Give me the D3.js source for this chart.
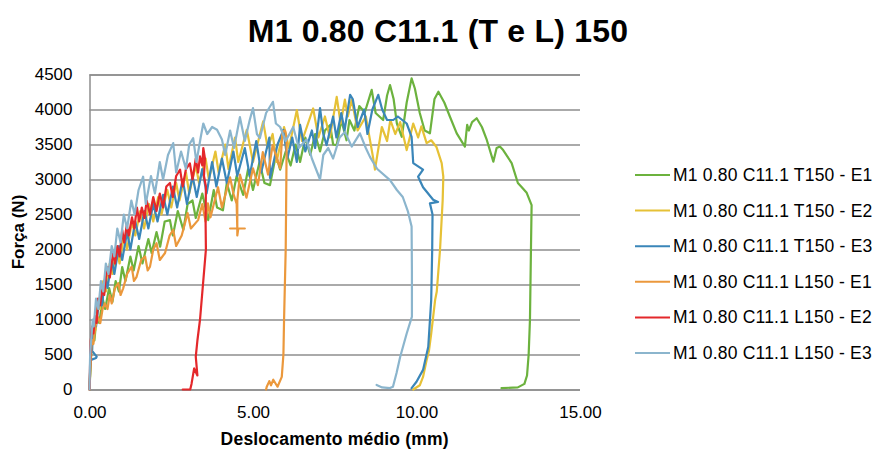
<!DOCTYPE html>
<html>
<head>
<meta charset="utf-8">
<script src="https://cdn.jsdelivr.net/npm/d3@7"></script>
<style>
  html, body { margin: 0; padding: 0; background: #fff; }
  svg { display: block; font-family: "Liberation Sans", Arial, Helvetica, sans-serif; }
</style>
</head>
<body>
<svg id="chart" width="875" height="449"></svg>
<script>
// ---------- DATA ----------
const chartTitle = "M1 0.80 C11.1 (T e L) 150";
const xLabel = "Deslocamento médio (mm)";
const yLabel = "Força (N)";
const xTicks = [0, 5, 10, 15];
const yTicks = [0, 500, 1000, 1500, 2000, 2500, 3000, 3500, 4000, 4500];
const seriesNames = [
  "M1 0.80 C11.1 T150 - E1",
  "M1 0.80 C11.1 T150 - E2",
  "M1 0.80 C11.1 T150 - E3",
  "M1 0.80 C11.1 L150 - E1",
  "M1 0.80 C11.1 L150 - E2",
  "M1 0.80 C11.1 L150 - E3"
];

// [displacement mm, force N]
const t150e1 = [[0,0],[0.03,300],[0.06,550],[0.1,800],[0.15,700],[0.22,1050],[0.3,950],[0.4,1300],[0.48,1150],[0.6,1450],[0.7,1250],[0.8,1550],[0.9,1400],[1.0,1750],[1.1,1550],[1.25,1900],[1.35,1700],[1.5,2050],[1.62,1800],[1.8,2150],[1.9,1950],[2.05,2250],[2.16,2040],[2.3,2400],[2.46,2420],[2.55,2200],[2.7,2550],[2.87,2280],[3.0,2650],[3.15,2700],[3.25,2450],[3.45,2800],[3.63,2420],[3.8,2850],[3.9,2600],[4.08,2560],[4.2,2950],[4.35,2700],[4.5,3050],[4.7,2780],[4.85,3150],[5.0,2850],[5.2,3250],[5.35,2950],[5.52,2920],[5.7,3350],[5.83,3140],[6.0,3400],[6.15,3200],[6.3,3500],[6.44,3250],[6.6,3600],[6.75,3350],[6.9,3650],[7.05,3400],[7.2,3700],[7.36,3780],[7.45,3500],[7.56,3490],[7.7,3850],[7.86,3560],[7.95,3850],[8.1,3700],[8.25,4050],[8.42,3960],[8.63,4280],[8.75,3950],[8.98,3850],[9.1,4200],[9.19,4350],[9.3,4150],[9.4,3800],[9.55,3610],[9.7,4100],[9.85,4445],[9.95,4300],[10.1,3950],[10.25,3700],[10.41,3660],[10.55,4150],[10.67,4255],[10.85,4100],[11.02,3900],[11.23,3660],[11.48,3470],[11.52,3650],[11.55,3780],[11.6,3700],[11.7,3820],[11.84,3875],[12.0,3750],[12.15,3565],[12.35,3255],[12.45,3450],[12.55,3470],[12.65,3420],[12.91,3235],[13.1,2950],[13.2,2900],[13.37,2810],[13.52,2635],[13.5,2000],[13.47,1000],[13.43,500],[13.38,200],[13.3,80],[13.1,30],[12.6,20]];

const t150e2 = [[0,0],[0.03,400],[0.07,700],[0.12,950],[0.18,850],[0.25,1250],[0.32,1150],[0.42,1550],[0.5,1400],[0.62,1800],[0.7,1650],[0.82,2000],[0.92,1800],[1.05,2200],[1.15,2000],[1.3,2400],[1.4,2200],[1.55,2550],[1.67,2300],[1.82,2650],[1.95,2400],[2.1,2750],[2.2,2500],[2.38,2850],[2.5,2600],[2.65,2950],[2.75,2700],[2.95,3100],[3.05,2800],[3.25,3200],[3.35,2950],[3.55,3300],[3.65,3000],[3.85,3400],[3.95,3100],[4.15,3500],[4.25,3150],[4.45,3600],[4.55,3250],[4.81,3710],[5.0,3250],[5.31,3830],[5.45,3450],[5.6,3650],[5.72,3250],[5.95,3750],[6.1,3450],[6.34,3990],[6.5,3550],[6.84,4015],[7.0,3600],[7.2,3900],[7.35,3600],[7.56,4180],[7.68,3800],[7.81,4140],[7.9,3900],[8.02,4140],[8.2,3700],[8.45,3900],[8.67,3320],[8.73,3140],[8.94,3750],[9.1,3550],[9.2,3850],[9.35,3650],[9.5,3820],[9.7,3420],[9.9,3800],[10.05,3600],[10.15,3760],[10.31,3520],[10.45,3560],[10.61,3465],[10.77,3235],[10.82,3040],[10.8,2700],[10.72,2000],[10.62,1400],[10.57,1280],[10.45,800],[10.38,550],[10.31,420],[10.2,180],[10.1,60],[9.9,0]];

const t150e3 = [[0,0],[0.03,420],[0.2,450],[0.22,470],[0.08,550],[0.1,800],[0.15,1000],[0.2,900],[0.3,1300],[0.38,1200],[0.48,1600],[0.55,1450],[0.68,1850],[0.76,1650],[0.9,2050],[1.0,1850],[1.15,2250],[1.25,2000],[1.4,2400],[1.52,2150],[1.68,2550],[1.8,2300],[1.95,2650],[2.08,2400],[2.25,2780],[2.38,2500],[2.55,2900],[2.68,2600],[2.85,3000],[2.98,2650],[3.15,3050],[3.28,2750],[3.45,3150],[3.58,2800],[3.75,3250],[3.88,2900],[4.05,3300],[4.2,2950],[4.4,3400],[4.52,3050],[4.75,3450],[4.9,3050],[5.1,3550],[5.25,3100],[5.5,3600],[5.52,3020],[5.75,3500],[5.93,3710],[6.05,3300],[6.2,3600],[6.34,3250],[6.44,3780],[6.6,3400],[6.8,3700],[6.9,3450],[7.05,4020],[7.15,3650],[7.25,3490],[7.45,3900],[7.55,3600],[7.7,3950],[7.8,3700],[7.97,4210],[8.05,4150],[8.2,3750],[8.4,4000],[8.5,3650],[8.65,4000],[8.83,4210],[8.95,4000],[9.1,3850],[9.29,3850],[9.43,3900],[9.7,3800],[9.85,3610],[9.9,3235],[10.2,3140],[10.05,3040],[10.2,2890],[10.51,2710],[10.66,2680],[10.41,2660],[10.49,2500],[10.48,2000],[10.45,1280],[10.36,610],[10.2,280],[10.0,110],[9.85,20]];

const l150e1 = [[0,0],[0.02,250],[0.04,460],[0.07,710],[0.12,650],[0.18,900],[0.26,1030],[0.33,950],[0.4,1150],[0.47,1230],[0.55,1150],[0.62,1350],[0.68,1230],[0.78,1450],[0.88,1520],[0.95,1350],[1.03,1445],[1.15,1650],[1.29,1755],[1.36,1550],[1.44,1610],[1.58,1850],[1.7,1900],[1.78,1700],[1.85,1755],[1.95,2000],[2.05,2090],[2.15,1850],[2.31,1950],[2.45,2200],[2.56,2280],[2.65,2050],[2.82,2200],[3.0,2520],[3.1,2300],[3.32,2420],[3.45,2650],[3.55,2400],[3.62,2660],[3.7,2460],[3.93,2890],[4.05,2600],[4.3,3030],[4.4,2800],[4.5,2650],[4.52,2300],[4.3,2300],[4.75,2300],[4.55,2300],[4.52,2200],[4.52,2700],[4.6,3070],[4.8,2740],[5.0,3160],[5.15,2920],[5.3,3390],[5.46,3070],[5.6,3490],[5.83,3160],[5.9,3680],[5.98,3700],[6.03,3600],[6.02,3000],[6.0,2000],[5.95,1000],[5.93,500],[5.88,180],[5.75,40],[5.62,140],[5.55,60],[5.5,120],[5.42,40],[5.4,0]];

const l150e2 = [[0,0],[0.02,400],[0.04,700],[0.08,900],[0.12,800],[0.17,1050],[0.22,950],[0.26,1300],[0.32,1200],[0.4,1450],[0.45,1350],[0.5,1600],[0.57,1750],[0.62,1600],[0.72,1950],[0.78,1800],[0.85,2050],[0.92,1900],[1.0,2280],[1.06,2100],[1.14,2350],[1.2,2200],[1.3,2460],[1.37,2300],[1.45,2600],[1.52,2400],[1.6,2600],[1.68,2450],[1.75,2700],[1.85,2500],[1.95,2750],[2.05,2550],[2.15,2800],[2.25,2600],[2.35,2900],[2.46,2950],[2.55,2750],[2.65,3050],[2.77,3140],[2.85,2900],[2.95,3150],[3.07,3230],[3.15,3000],[3.25,3300],[3.32,3100],[3.38,3330],[3.45,3200],[3.48,3450],[3.53,3300],[3.5,3050],[3.56,2900],[3.55,2400],[3.56,2000],[3.38,1000],[3.3,700],[3.25,470],[3.3,200],[3.2,300],[3.12,80],[3.08,0],[2.85,0]];

const l150e3 = [[0,0],[0.01,300],[0.02,500],[0.05,700],[0.1,1000],[0.13,900],[0.2,1300],[0.27,1150],[0.35,1550],[0.42,1400],[0.5,1800],[0.58,1650],[0.68,2050],[0.76,1900],[0.85,2300],[0.95,2100],[1.05,2500],[1.15,2300],[1.28,2700],[1.38,2500],[1.5,2850],[1.64,3040],[1.72,2650],[1.88,3050],[2.0,2800],[2.15,3250],[2.25,3000],[2.4,3350],[2.56,3520],[2.65,3100],[2.8,3400],[2.95,3150],[3.05,3500],[3.17,3590],[3.27,3250],[3.4,3600],[3.48,3800],[3.6,3650],[3.75,3750],[3.9,3710],[4.05,3570],[4.15,3350],[4.3,3700],[4.42,3450],[4.6,3890],[4.75,3550],[4.9,3850],[5.0,4020],[5.12,3650],[5.21,3590],[5.4,3950],[5.61,4110],[5.7,3800],[5.83,3750],[6.0,3550],[6.23,3750],[6.4,3450],[6.64,3570],[6.8,3300],[7.05,3000],[7.15,3350],[7.3,3450],[7.45,3300],[7.65,3600],[7.81,3680],[8.02,3470],[8.27,3660],[8.45,3450],[8.58,3320],[8.8,3150],[9.19,2990],[9.4,2850],[9.58,2750],[9.74,2540],[9.85,2330],[9.86,1700],[9.86,1040],[9.7,800],[9.5,465],[9.39,235],[9.28,40],[9.19,20],[8.95,30],[8.78,65]];

const seriesData = [t150e1, t150e2, t150e3, l150e1, l150e2, l150e3];

// ---------- STYLE ----------
const seriesColors = ["#6cb23e", "#e6c136", "#3a86b9", "#eb983c", "#e4282b", "#8bb5cd"];
const gridColor = "#8e8e8e";

// ---------- CHART ----------
const svg = d3.select("#chart");
const plotLeft = 89.5, plotRight = 580, plotTop = 74.5, plotBottom = 389.5;

const x = d3.scaleLinear().domain([0, 15]).range([plotLeft, plotRight]);
const y = d3.scaleLinear().domain([0, 4500]).range([plotBottom, plotTop]);

// y axis + gridlines
const yAxis = svg.append("g")
  .attr("transform", `translate(${plotLeft},0)`)
  .call(d3.axisLeft(y).tickValues(yTicks).tickSize(-(plotRight - plotLeft)).tickPadding(17).tickFormat(d3.format("d")));
yAxis.select(".domain").attr("stroke", gridColor).attr("stroke-width", 1.5);
yAxis.selectAll(".tick line").attr("stroke", gridColor).attr("stroke-width", 1.5);
yAxis.selectAll(".tick text").attr("fill", "#000").style("font-size", "17px")
  .style("font-family", "'Liberation Sans', Arial, sans-serif");

// x axis labels
const xAxis = svg.append("g")
  .attr("transform", `translate(0,${plotBottom})`)
  .call(d3.axisBottom(x).tickValues(xTicks).tickSize(0).tickPadding(16).tickFormat(d3.format(".2f")));
xAxis.select(".domain").remove();
xAxis.selectAll(".tick text").attr("fill", "#000").style("font-size", "17px")
  .style("font-family", "'Liberation Sans', Arial, sans-serif");

// series lines
const line = d3.line().x(d => x(d[0])).y(d => y(d[1]));
svg.append("g").selectAll("path")
  .data(seriesData)
  .join("path")
  .attr("d", line)
  .attr("fill", "none")
  .attr("stroke", (d, i) => seriesColors[i])
  .attr("stroke-width", 2.2)
  .attr("stroke-linejoin", "round")
  .attr("stroke-linecap", "round");

// title
svg.append("text")
  .attr("x", 438).attr("y", 42)
  .attr("text-anchor", "middle")
  .style("font-size", "32px").style("font-weight", "bold")
  .style("letter-spacing", "0.2px")
  .text(chartTitle);

// axis titles
svg.append("text")
  .attr("x", (plotLeft + plotRight) / 2).attr("y", 445)
  .attr("text-anchor", "middle")
  .style("font-size", "17.5px").style("font-weight", "bold")
  .style("letter-spacing", "0.2px")
  .text(xLabel);

svg.append("text")
  .attr("transform", `translate(24,${(plotTop + plotBottom) / 2}) rotate(-90)`)
  .attr("text-anchor", "middle")
  .style("font-size", "17px").style("font-weight", "bold")
  .text(yLabel);

// legend
const legend = svg.append("g");
const legendY0 = 175, legendStep = 35.6;
seriesNames.forEach((name, i) => {
  const ly = legendY0 + i * legendStep;
  legend.append("line")
    .attr("x1", 635).attr("x2", 670).attr("y1", ly).attr("y2", ly)
    .attr("stroke", seriesColors[i]).attr("stroke-width", 2);
  legend.append("text")
    .attr("x", 673).attr("y", ly)
    .attr("dominant-baseline", "central")
    .style("font-size", "17.5px")
    .style("letter-spacing", "0.2px")
    .text(name);
});
</script>
</body>
</html>
